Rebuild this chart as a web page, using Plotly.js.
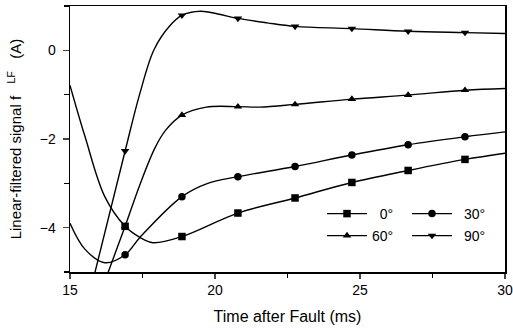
<!DOCTYPE html>
<html>
<head>
<meta charset="utf-8">
<script src="https://cdn.plot.ly/plotly-3.0.1.min.js"></script>
<style>html,body{margin:0;padding:0;background:#fff;}#chart{width:513px;height:333px;}</style>
</head>
<body>
<div id="chart"></div>
<script>
// Curve points (time in ms, signal in A)
var t0 = [15, 15.52, 16.2, 16.9, 17.41, 17.86, 18.86, 20.79, 22.76, 24.72, 26.66, 28.62, 30];
var y0 = [-0.79, -1.95, -3.3, -3.97, -4.22, -4.34, -4.2, -3.67, -3.33, -2.98, -2.71, -2.46, -2.32];

var t30 = [15, 15.52, 16.2, 16.9, 17.41, 18.86, 19.75, 20.79, 22.76, 24.72, 26.66, 28.62, 30];
var y30 = [-3.9, -4.49, -4.79, -4.61, -4.22, -3.30, -3.0, -2.85, -2.62, -2.36, -2.13, -1.95, -1.84];

var t60 = [16.15, 16.9, 17.41, 17.93, 18.3, 18.86, 19.7, 20.79, 21.55, 22.76, 24.72, 26.66, 28.62, 30];
var y60 = [-5.3, -3.97, -3.03, -2.2, -1.8, -1.46, -1.28, -1.27, -1.28, -1.22, -1.10, -1.01, -0.90, -0.86];

var t90 = [15.75, 16.9, 17.41, 17.9, 18.45, 18.86, 19.5, 20.1, 20.79, 21.8, 22.76, 24.72, 26.66, 28.62, 30];
var y90 = [-5.3, -2.27, -0.97, 0.02, 0.56, 0.79, 0.88, 0.82, 0.72, 0.62, 0.54, 0.49, 0.43, 0.40, 0.38];

// Marker samples
var mt = [16.9, 18.86, 20.79, 22.76, 24.72, 26.66, 28.62];
var m0 = [-3.97, -4.2, -3.67, -3.33, -2.98, -2.71, -2.46];
var m30 = [-4.61, -3.30, -2.85, -2.62, -2.36, -2.13, -1.95];
var m60 = [-3.97, -1.46, -1.27, -1.22, -1.10, -1.01, -0.90];
var m90 = [-2.27, 0.79, 0.72, 0.54, 0.49, 0.43, 0.40];

var names = ['\u20070\u00b0', '\u200230\u00b0', '60\u00b0', '\u200290\u00b0'];
var symbols = ['square', 'circle', 'triangle-up', 'triangle-down'];
var legends = ['legend', 'legend2', 'legend3', 'legend4'];

var curves = [[t0, y0, m0], [t30, y30, m30], [t60, y60, m60], [t90, y90, m90]];
var traces = [];
curves.forEach(function (c, i) {
  traces.push({x: c[0], y: c[1], mode: 'lines', line: {color: '#000', width: 1.4, shape: 'spline', smoothing: 1},
    showlegend: false, hoverinfo: 'skip'});
  traces.push({x: mt, y: c[2], mode: 'markers', marker: {symbol: symbols[i], color: '#000', size: 7.5},
    showlegend: false});
});
curves.forEach(function (c, i) {
  traces.push({x: [null], y: [null], mode: 'lines+markers', name: names[i], legend: legends[i],
    line: {color: '#000', width: 1.4}, marker: {symbol: symbols[i], color: '#000', size: 7.5}});
});

var font = {family: 'Arial, "Liberation Sans", sans-serif', color: '#000', size: 14};
function leg(px, py) {
  return {x: (px - 70) / 435, y: (272 - py) / 266, xanchor: 'left', yanchor: 'middle', orientation: 'h',
    bgcolor: 'rgba(0,0,0,0)', borderwidth: 0, itemwidth: 40,
    font: {family: font.family, size: 14, color: '#000'}};
}
var nb = '\u00a0';
var yTitle = nb + nb + nb + nb + nb + 'Linear-filtered signal f' + nb + nb + nb + '<sup>LF</sup>' + nb + nb + nb + '(A)';

var layout = {
  width: 513, height: 333,
  margin: {l: 70, r: 8, t: 6, b: 61},
  paper_bgcolor: '#fff', plot_bgcolor: '#fff',
  font: font,
  showlegend: true,
  xaxis: {range: [15, 30], dtick: 5, tick0: 15, ticks: 'outside', ticklen: 5, tickwidth: 1.2,
    showgrid: false, zeroline: false, showline: true, linecolor: '#000', linewidth: 1.5, mirror: true,
    minor: {dtick: 2.5, ticklen: 4, tickcolor: '#000', ticks: 'outside', showgrid: false},
    tickfont: {size: 14}, title: {text: 'Time after Fault (ms)', font: {size: 16}, standoff: 13}},
  yaxis: {range: [-5, 1], dtick: 2, tick0: 0, ticks: 'outside', ticklen: 6, tickwidth: 1.2,
    showgrid: false, zeroline: false, showline: true, linecolor: '#000', linewidth: 1.5, mirror: true,
    ticklabelstandoff: 4,
    minor: {dtick: 1, ticklen: 5, tickcolor: '#000', ticks: 'outside', showgrid: false},
    tickfont: {size: 14}, title: {text: yTitle, font: {size: 15}, standoff: 14}},
  legend: leg(322, 214),
  legend2: leg(407, 214),
  legend3: leg(322, 236),
  legend4: leg(407, 236)
};

Plotly.newPlot('chart', traces, layout, {staticPlot: true, displayModeBar: false});
</script>
</body>
</html>
